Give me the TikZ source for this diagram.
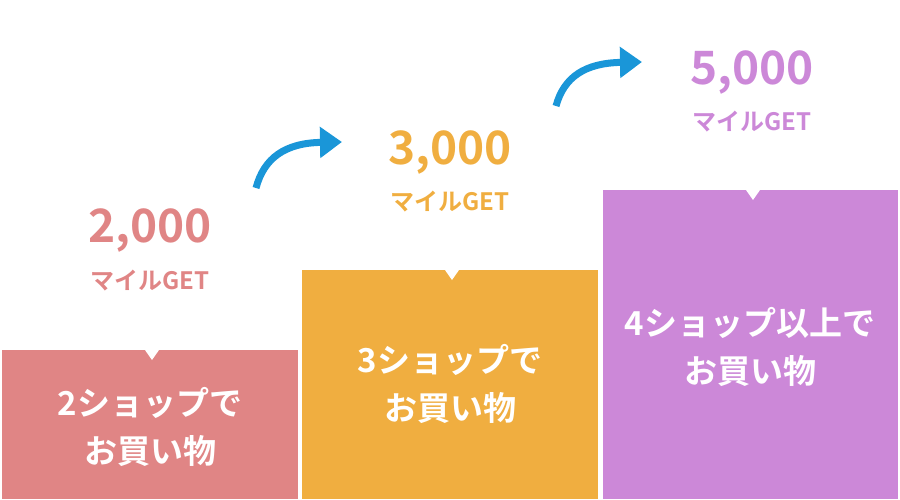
\documentclass[tikz,border=0pt]{standalone}
\usepackage{fontspec}
\setmainfont{Noto Sans CJK JP Bold}
\usetikzlibrary{arrows.meta}
\definecolor{cpink}{HTML}{E08585}
\definecolor{corange}{HTML}{F0AE40}
\definecolor{cpurple}{HTML}{CC88D8}
\definecolor{cblue}{HTML}{1A96D8}
\tikzset{
 num/.style={font=\fontsize{46}{46}\selectfont},
 mile/.style={font=\fontsize{24}{24}\selectfont},
 boxtxt/.style={text=white,font=\fontsize{33}{48}\selectfont,align=center},
 arr/.style={cblue,line width=7pt,-{Triangle[length=22pt,width=30pt]}}
}
\begin{document}
\begin{tikzpicture}[x=1pt,y=-1pt]
\useasboundingbox (0,0) rectangle (900,499);
\fill[cpink] (2,350) rectangle (298,499);
\fill[corange] (302,270) rectangle (598,499);
\fill[cpurple] (603,190) rectangle (898,499);
\foreach \x/\y in {152/350,452/270,753/190}
  \fill[white] (\x-7,\y) -- (\x+7,\y) -- (\x,\y+10) -- cycle;
\node[num,text=cpink] (n1) at (150,231) {2,000};
\node[mile,text=cpink] (m1) at (150,281) {マイルGET};
\node[num,text=corange] (n2) at (450,153) {3,000};
\node[mile,text=corange] (m2) at (450,202) {マイルGET};
\node[num,text=cpurple] (n3) at (752,73) {5,000};
\node[mile,text=cpurple] (m3) at (752,122) {マイルGET};
\node[boxtxt] (b1) at (150,427) {2ショップで\\お買い物};
\node[boxtxt] (b2) at (450,384) {3ショップで\\お買い物};
\node[boxtxt] (b3) at (750,347) {4ショップ以上で\\お買い物};
\coordinate (a1s) at (256,188); \coordinate (a1e) at (342,142);
\coordinate (a2s) at (556,106); \coordinate (a2e) at (642,62);
\draw[arr] (a1s) .. controls (264,158) and (285,143) .. (a1e);
\draw[arr] (a2s) .. controls (564,77) and (585,63) .. (a2e);
\end{tikzpicture}
\end{document}
